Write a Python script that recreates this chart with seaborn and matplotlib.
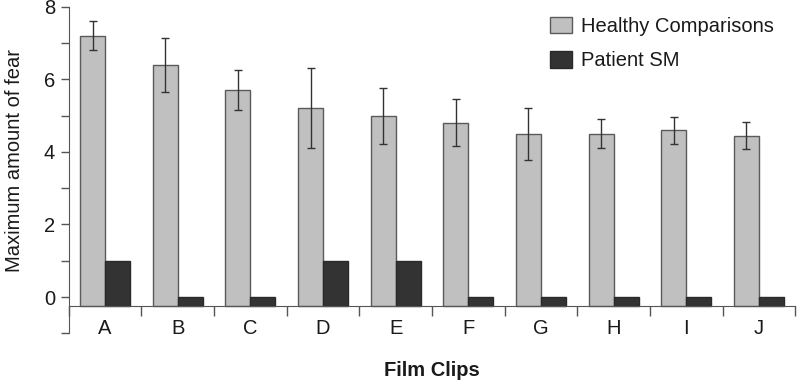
import matplotlib
matplotlib.use("Agg")
import numpy as np
import pandas as pd
import matplotlib.pyplot as plt
import seaborn as sns

# Values
clips = ["A", "B", "C", "D", "E", "F", "G", "H", "I", "J"]
healthy = [7.2, 6.4, 5.7, 5.2, 5.0, 4.8, 4.5, 4.5, 4.6, 4.45]
healthy_err = [0.4, 0.75, 0.55, 1.1, 0.77, 0.65, 0.72, 0.4, 0.37, 0.36]
patient = [1, 0, 0, 1, 1, 0, 0, 0, 0, 0]
groups = ["Healthy Comparisons", "Patient SM"]
colors = ["#c0c0c0", "#333333"]
edges = ["#5a5a5a", "#2a2a2a"]
base = -0.25

df = pd.DataFrame({
    "clip": clips * 2,
    "fear": healthy + patient,
    "group": [groups[0]] * len(clips) + [groups[1]] * len(clips),
})

sns.set_style("ticks")
plt.rcParams["font.family"] = ["Liberation Sans", "DejaVu Sans"]
plt.rcParams["text.color"] = "#1a1a1a"
plt.rcParams["axes.labelcolor"] = "#1a1a1a"
plt.rcParams["xtick.color"] = "#555555"
plt.rcParams["ytick.color"] = "#555555"
fs = 14.5

fig = plt.figure(figsize=(8, 3.86), dpi=100)
ax = fig.add_axes([0.086, 0.1365, 0.908, 0.8461])

sns.barplot(data=df, x="clip", y="fear", hue="group", palette=colors,
            width=0.69, errorbar=None, linewidth=1, ax=ax)

# bars start below zero, like the original figure
for cont, ec in zip(ax.containers, edges):
    for p in cont:
        h = p.get_height()
        p.set_y(base)
        p.set_height(h - base)
        p.set_edgecolor(ec)

xs = [p.get_x() + p.get_width() / 2 for p in ax.containers[0]]
ax.errorbar(xs, healthy, yerr=healthy_err, fmt="none", ecolor="#333333",
            elinewidth=1, capsize=3, capthick=1)

ax.set_xlim(-0.5, 9.5)
ax.set_ylim(-1, 8)
sns.despine(ax=ax)
ax.spines["left"].set_bounds(-1, 8)
ax.spines["bottom"].set_position(("data", base))
ax.spines["left"].set_color("#555555")
ax.spines["bottom"].set_color("#555555")

ax.set_yticks([0, 2, 4, 6, 8])
ax.set_yticks([-1, 1, 3, 5, 7], minor=True)
ax.set_xticks(np.arange(-0.5, 10, 1), minor=True)
ax.tick_params(axis="y", which="both", length=6, width=1, labelsize=fs,
               labelcolor="#1a1a1a", pad=4)
ax.tick_params(axis="x", which="major", length=0, labelsize=fs,
               labelcolor="#1a1a1a", pad=9)
ax.tick_params(axis="x", which="minor", length=7, width=1, bottom=True)

ax.set_ylabel("Maximum amount of fear", fontsize=fs)
ax.yaxis.set_label_coords(-0.062, 0.53)
ax.set_xlabel("Film Clips", fontsize=fs, fontweight="bold")
ax.xaxis.set_label_coords(0.5, -0.085)

leg = ax.legend(loc="upper left", bbox_to_anchor=(0.637, 1.025), frameon=False,
                fontsize=fs, handlelength=1.1, handleheight=0.9,
                labelspacing=0.75, handletextpad=0.45)
for h, ec in zip(leg.legend_handles, edges):
    h.set_edgecolor(ec)
    h.set_linewidth(1)

fig.savefig("out.png", dpi=100)
